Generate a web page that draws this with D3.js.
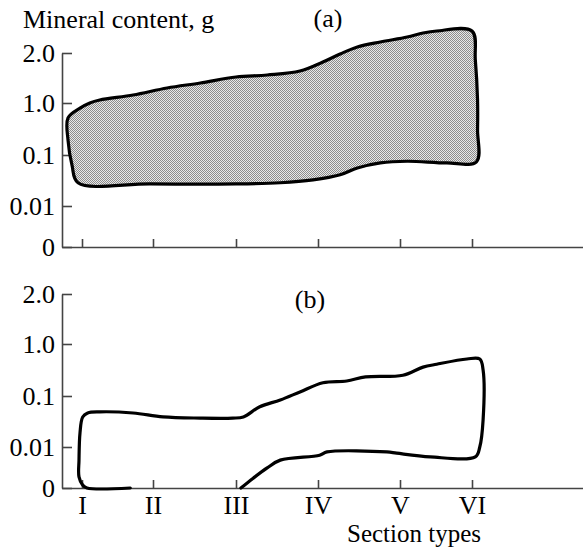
<!DOCTYPE html>
<html>
<head>
  <script src="https://cdn.jsdelivr.net/npm/d3@7"></script>
  <style>
    body { margin: 0; background: #fff; }
    text { font-family: "Liberation Serif", "Times New Roman", serif; }
  </style>
</head>
<body>
  <script>
    var width = 583, height = 548;

    // axis ticks
    var sectionTypes = ["I", "II", "III", "IV", "V", "VI"];
    var yTickValues = [0, 0.01, 0.1, 1.0, 2.0];
    var yTickLabels = ["0", "0.01", "0.1", "1.0", "2.0"];

    // outline of panel (a): [section type, mineral content g], clockwise
    var outlineA = [
      [0.30, 0.74], [0.90, 0.91], [1.11, 1.00], [1.25, 1.06], [1.72, 1.16],
      [2.17, 1.30], [2.57, 1.40], [3.00, 1.52], [3.38, 1.56], [3.78, 1.64],
      [4.06, 1.82], [4.27, 1.98], [4.48, 2.12], [4.76, 2.22], [5.10, 2.32],
      [5.32, 2.40], [5.51, 2.44], [6.00, 2.44], [6.03, 1.86], [6.05, 1.06],
      [6.05, 0.53], [6.04, 0.088], [5.65, 0.086], [5.10, 0.089], [4.76, 0.086],
      [4.48, 0.077], [4.27, 0.065], [3.94, 0.056], [3.54, 0.051], [3.00, 0.049],
      [1.96, 0.049], [0.80, 0.051], [0.50, 0.082], [0.30, 0.36]
    ];

    // outline of panel (b), open (runs along zero between I and III)
    var outlineB = [
      [1.68, 0], [1.07, 0], [1.01, 0.0007], [0.85, 0.0027], [0.85, 0.0068],
      [0.90, 0.035], [1.01, 0.063], [1.08, 0.070], [1.25, 0.072], [1.72, 0.070],
      [2.12, 0.063], [2.57, 0.061], [2.96, 0.061], [3.09, 0.063], [3.29, 0.081],
      [3.54, 0.093], [3.78, 0.17], [4.06, 0.33], [4.35, 0.36], [4.58, 0.43],
      [5.04, 0.46], [5.32, 0.60], [5.51, 0.65], [5.93, 0.74], [6.07, 0.74],
      [6.10, 0.55], [6.10, 0.058], [6.07, 0.010], [6.03, 0.0076], [5.42, 0.0076],
      [4.96, 0.0085], [4.84, 0.0088], [4.11, 0.0088], [4.02, 0.008], [3.54, 0.0068],
      [3.38, 0.0049], [3.21, 0.0024], [3.06, 0]
    ];

    var svg = d3.select("body")
      .append("svg")
      .attr("width", width)
      .attr("height", height);

    // checkered grey fill
    var pat = svg.append("defs").append("pattern")
      .attr("id", "dots")
      .attr("patternUnits", "userSpaceOnUse")
      .attr("width", 2).attr("height", 2);
    pat.append("rect").attr("width", 2).attr("height", 2).attr("fill", "#e8e8e8");
    pat.append("rect").attr("width", 1).attr("height", 1).attr("fill", "#8c8c8c");
    pat.append("rect").attr("x", 1).attr("y", 1).attr("width", 1).attr("height", 1).attr("fill", "#8c8c8c");

    // section axis, uneven as in the figure; 0 and 7 only set the axis ends
    var x = d3.scaleLinear()
      .domain([0, 1, 2, 3, 4, 5, 6, 7])
      .range([62, 82, 153, 236, 318, 400, 472, 583]);

    function panel(top, outline, closed, filled, showLabels) {
      var y = d3.scaleLinear()
        .domain(yTickValues)
        .range([247, 206, 155, 103, 53].map(d => d + top));

      var g = svg.append("g");

      g.append("g")
        .attr("transform", "translate(" + x(0) + ",0)")
        .call(d3.axisLeft(y)
          .tickValues(yTickValues)
          .tickFormat((d, i) => yTickLabels[i])
          .tickSizeInner(-10)
          .tickSizeOuter(0)
          .tickPadding(7));

      g.append("g")
        .attr("transform", "translate(0," + y(0) + ")")
        .call(d3.axisBottom(x)
          .tickValues(d3.range(1, 7))
          .tickFormat(d => showLabels ? sectionTypes[d - 1] : "")
          .tickSizeInner(-8)
          .tickSizeOuter(0)
          .tickPadding(8));

      g.selectAll(".domain, .tick line")
        .attr("stroke", "#444")
        .attr("stroke-width", 1.6);
      g.selectAll(".tick text")
        .attr("fill", "#000")
        .style("font-size", "26px");

      var line = d3.line()
        .x(d => x(d[0]))
        .y(d => y(d[1]))
        .curve(closed ? d3.curveCatmullRomClosed : d3.curveCatmullRom);

      g.append("path")
        .datum(outline)
        .attr("d", line)
        .attr("fill", filled ? "url(#dots)" : "none")
        .attr("stroke", "#000")
        .attr("stroke-width", 3.2)
        .attr("stroke-linejoin", "round")
        .attr("stroke-linecap", "round");
    }

    panel(0, outlineA, true, true, false);
    panel(241, outlineB, false, false, true);

    svg.append("text")
      .attr("x", 23).attr("y", 28)
      .style("font-size", "26px")
      .text("Mineral content, g");

    svg.append("text")
      .attr("x", 328).attr("y", 27)
      .attr("text-anchor", "middle")
      .style("font-size", "26px")
      .text("(a)");

    svg.append("text")
      .attr("x", 310).attr("y", 308)
      .attr("text-anchor", "middle")
      .style("font-size", "26px")
      .text("(b)");

    svg.append("text")
      .attr("x", 414).attr("y", 542)
      .attr("text-anchor", "middle")
      .style("font-size", "25px")
      .text("Section types");
  </script>
</body>
</html>
